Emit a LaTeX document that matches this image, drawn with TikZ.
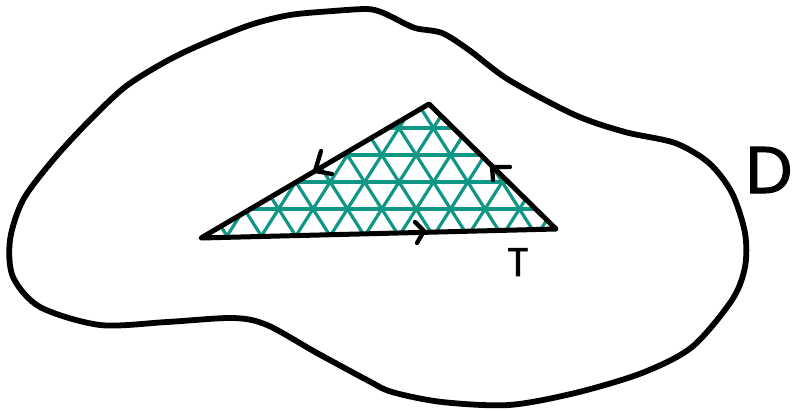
\documentclass[tikz,border=0pt]{standalone}
\usepackage{fontspec}
\newfontfamily\handfont[FakeBold=1.6]{Poppins}
\definecolor{meshgreen}{RGB}{16,150,132}
\tikzset{
  blob/.style={line width=5.8pt, line join=round, line cap=round},
  triedge/.style={line width=5pt, line join=round, line cap=round},
  meshline/.style={meshgreen, line width=3.2pt, line cap=round},
  chevron/.style={line width=4.3pt, line join=round, line cap=round},
  handlabel/.style={inner sep=0pt, font=\handfont}
}
\begin{document}
\begin{tikzpicture}[x=1pt, y=-1pt]
\useasboundingbox (0,0) rectangle (792,410);
% domain D
\draw[blob] plot[smooth cycle, tension=0.5] coordinates {
 (367,9) (381,12) (392,17) (415,28) (442,33) (469,50) (509,80) (575,115)
 (625,132) (675,143) (709,163) (732,193) (745,233) (745,267) (732,300)
 (692,347) (642,373) (575,393) (509,405) (442,402) (392,392) (367,380)
 (317,353) (267,325) (233,318) (167,322) (100,325) (40,307) (13,277)
 (10,240) (23,200) (53,160) (88,122) (125,87) (165,62) (200,45) (250,25)
 (290,15) (333,11)};
% triangle T
\coordinate (A) at (201,238);
\coordinate (B) at (429,104);
\coordinate (C) at (556,229);
\begin{scope}
  \clip (A) -- (B) -- (C) -- cycle;
  \foreach \k in {-7,...,15} {
    \draw[meshline] ({227+34.4*\k-17.2*2},{236+27*2}) -- ++({17.2*10},{-27*10});
    \draw[meshline] ({227+34.4*\k+17.2*2},{236+27*2}) -- ++({-17.2*10},{-27*10});
  }
  \foreach \j in {1,...,5}
    \draw[meshline] (150,{236-27*\j}) -- (600,{236-27*\j});
\end{scope}
\draw[triedge] (A) -- (B) -- (C) -- cycle;
% orientation chevrons
\coordinate (lA) at (321,151); \coordinate (lT) at (315,171); \coordinate (lB) at (332,174);
\draw[chevron] (lA) -- (lT) -- (lB);
\coordinate (rA) at (493,180); \coordinate (rT) at (492,167); \coordinate (rB) at (510,167);
\draw[chevron] (rA) -- (rT) -- (rB);
\coordinate (bA) at (415,222); \coordinate (bT) at (424,231); \coordinate (bB) at (417,243);
\draw[chevron] (bA) -- (bT) -- (bB);
% labels
\node[handlabel, font=\handfont\fontsize{66}{66}\selectfont] (labD) at (769,170) {D};
\node[handlabel, font=\handfont\fontsize{40}{40}\selectfont] (labT) at (518,262) {T};
\end{tikzpicture}
\end{document}
